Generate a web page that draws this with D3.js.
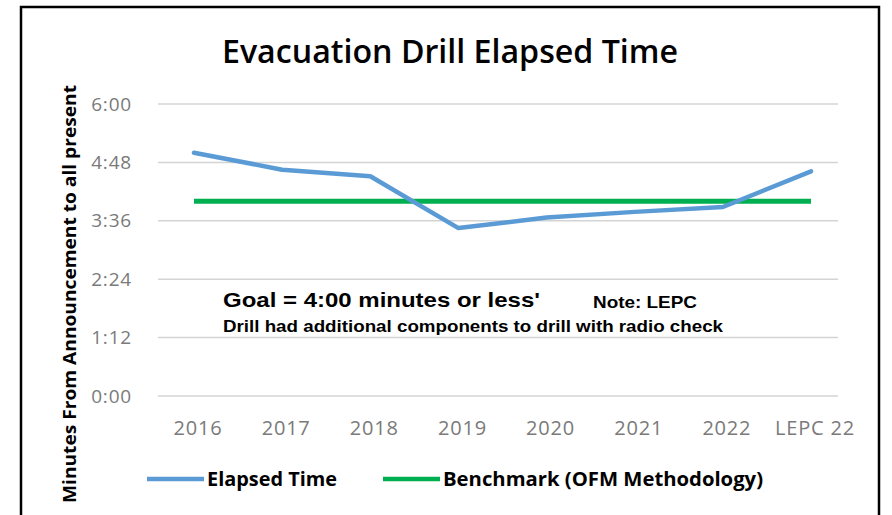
<!DOCTYPE html>
<html lang="en">
<head>
<meta charset="UTF-8">
<title>Evacuation Drill Elapsed Time</title>
<script src="https://cdn.jsdelivr.net/npm/d3@7"></script>
<style>
    body { margin: 0; background: #fff; }
    text { font-family: "Open Sans", "DejaVu Sans", sans-serif; }
    .note { font-family: "Liberation Sans", Arial, sans-serif; font-weight: bold; fill: #000; }
</style>
</head>
<body>
<div id="chart"></div>
<script>

// categories on the x axis
const years = ["2016", "2017", "2018", "2019", "2020", "2021", "2022", "LEPC 22"];

// elapsed time per drill, in seconds
const elapsed = [300, 279, 271, 207, 220, 227, 233, 277];

// benchmark (OFM methodology), in seconds
const benchmark = [240, 240, 240, 240, 240, 240, 240, 240];

// y ticks in seconds (shown as m:ss)
const yTicks = [0, 72, 144, 216, 288, 360];

const seriesNames = ["Elapsed Time", "Benchmark (OFM Methodology)"];
const colors = ["#5b9bd5", "#00b050"];

const width = 892;
const height = 515;

const fmtTime = s => `${Math.floor(s / 60)}:${String(s % 60).padStart(2, "0")}`;

const svg = d3.select("#chart").append("svg")
    .attr("width", width)
    .attr("height", height);

// outer frame
svg.append("rect")
    .attr("x", 21).attr("y", 7)
    .attr("width", 858).attr("height", 520)
    .attr("fill", "#fff")
    .attr("stroke", "#000")
    .attr("stroke-width", 2.5);

const x = d3.scalePoint().domain(years).range([194, 811]);
const y = d3.scaleLinear().domain([0, 360]).range([396, 104]);

// gridlines
svg.append("g")
    .selectAll("line")
    .data(yTicks)
    .join("line")
    .attr("x1", 158).attr("x2", 838)
    .attr("y1", d => y(d)).attr("y2", d => y(d))
    .attr("stroke", "#d4d4d4")
    .attr("stroke-width", 1.5);

// y tick labels
svg.append("g")
    .selectAll("text")
    .data(yTicks)
    .join("text")
    .attr("x", 132)
    .attr("y", d => y(d))
    .attr("dy", "0.35em")
    .attr("text-anchor", "end")
    .attr("fill", "#7a7a7a")
    .attr("font-size", 19)
    .attr("letter-spacing", 0.8)
    .text(fmtTime);

// x tick labels
svg.append("g")
    .selectAll("text")
    .data(years)
    .join("text")
    .attr("x", d => x(d) + 4)
    .attr("y", 435)
    .attr("text-anchor", "middle")
    .attr("fill", "#7a7a7a")
    .attr("font-size", 20)
    .attr("letter-spacing", 0.8)
    .text(d => d);

// title
svg.append("text")
    .attr("x", 450)
    .attr("y", 63)
    .attr("text-anchor", "middle")
    .attr("font-size", 32)
    .attr("font-weight", 600)
    .attr("fill", "#000")
    .attr("textLength", 456)
    .attr("lengthAdjust", "spacingAndGlyphs")
    .text("Evacuation Drill Elapsed Time");

// y axis title
svg.append("text")
    .attr("transform", "translate(76,294) rotate(-90)")
    .attr("text-anchor", "middle")
    .attr("font-size", 18)
    .attr("font-weight", 700)
    .attr("fill", "#000")
    .attr("textLength", 418)
    .attr("lengthAdjust", "spacingAndGlyphs")
    .text("Minutes From Announcement to all present");

const line = d3.line()
    .x((d, i) => x(years[i]))
    .y(d => y(d));

// benchmark line
svg.append("path")
    .datum(benchmark)
    .attr("d", line)
    .attr("fill", "none")
    .attr("stroke", colors[1])
    .attr("stroke-width", 5);

// elapsed line
svg.append("path")
    .datum(elapsed)
    .attr("d", line)
    .attr("fill", "none")
    .attr("stroke", colors[0])
    .attr("stroke-width", 4.5)
    .attr("stroke-linejoin", "round")
    .attr("stroke-linecap", "round");

// annotations
svg.append("text").attr("class", "note")
    .attr("x", 223).attr("y", 307)
    .attr("font-size", 21)
    .attr("textLength", 317)
    .attr("lengthAdjust", "spacingAndGlyphs")
    .text("Goal = 4:00 minutes or less'");

svg.append("text").attr("class", "note")
    .attr("x", 593).attr("y", 308)
    .attr("font-size", 17)
    .attr("textLength", 104)
    .attr("lengthAdjust", "spacingAndGlyphs")
    .text("Note: LEPC");

svg.append("text").attr("class", "note")
    .attr("x", 223).attr("y", 332)
    .attr("font-size", 16.5)
    .attr("textLength", 500)
    .attr("lengthAdjust", "spacingAndGlyphs")
    .text("Drill had additional components to drill with radio check");

// legend
const legendX = [147, 383];
const legendLen = [130, 320];
const legend = svg.append("g")
    .selectAll("g")
    .data(seriesNames)
    .join("g")
    .attr("transform", (d, i) => `translate(${legendX[i]},479)`);

legend.append("line")
    .attr("x1", 0).attr("x2", 57)
    .attr("stroke", (d, i) => colors[i])
    .attr("stroke-width", 4.5);

legend.append("text")
    .attr("x", 60)
    .attr("dy", "0.35em")
    .attr("font-size", 20)
    .attr("font-weight", 700)
    .attr("fill", "#000")
    .attr("textLength", (d, i) => legendLen[i])
    .attr("lengthAdjust", "spacingAndGlyphs")
    .text(d => d);

</script>
</body>
</html>
